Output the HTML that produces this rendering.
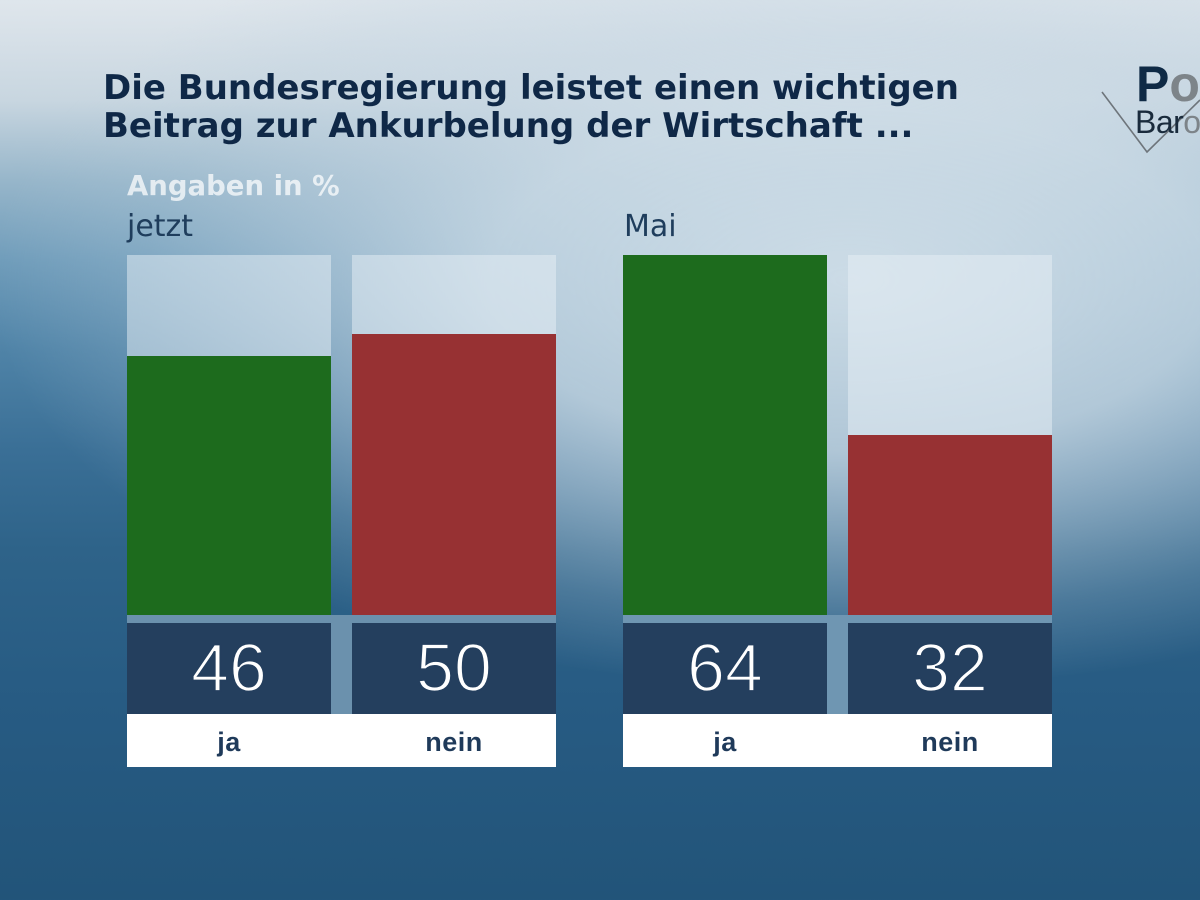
<!DOCTYPE html>
<html>
<head>
<meta charset="utf-8">
<style>
  html,body{margin:0;padding:0;}
  body{width:1200px;height:900px;overflow:hidden;position:relative;
    font-family:"Liberation Sans",sans-serif;
    background:
      radial-gradient(ellipse 860px 410px at 850px 280px, rgba(212,225,234,0.92) 0%, rgba(208,222,232,0.78) 42%, rgba(200,216,228,0.55) 60%, rgba(190,210,224,0.22) 82%, rgba(190,210,224,0) 100%),
      linear-gradient(180deg,#dfe6ec 0px,#c8d6e0 100px,#97b6ca 180px,#6f9cba 260px,#4f83a7 350px,#3a6f96 450px,#2e6389 550px,#275b83 700px,#225479 900px);
  }
  .abs{position:absolute;}
  .title{left:103px;top:69px;font-family:"DejaVu Sans",sans-serif;font-size:34px;line-height:38px;font-weight:bold;color:#0f2847;white-space:nowrap;}
  .angaben{left:127px;top:173px;font-family:"DejaVu Sans",sans-serif;font-size:27.5px;line-height:27.5px;font-weight:bold;color:rgba(255,255,255,0.72);white-space:nowrap;}
  .sub{top:212px;font-family:"DejaVu Sans",sans-serif;font-size:30px;line-height:30px;color:#1f3d5c;white-space:nowrap;}
  .slot{top:255px;height:360px;width:204px;background:rgba(232,240,245,0.5);}
  .bar{width:204px;}
  .green{background:#1d6b1d;}
  .red{background:#973133;}
  .band{top:615px;height:99px;background:#6b91ad;}
  .num{top:623px;height:91px;width:204px;background:#243f5e;color:#fff;text-align:center;
       font-size:68px;line-height:91px;-webkit-text-stroke:1.8px #243f5e;}
  .lab{top:714px;height:53px;background:#fff;}
  .lbl{top:714px;height:53px;width:204px;text-align:center;font-size:27px;line-height:53px;padding-top:2px;box-sizing:border-box;
       font-weight:bold;color:#1f3a5a;letter-spacing:0.5px;}
  .logoP{left:1136px;top:59px;font-size:50px;line-height:50px;font-weight:bold;color:#0f2a45;white-space:nowrap;}
  .logoB{left:1135px;top:106px;font-size:32px;line-height:32px;color:#1a2b3c;letter-spacing:-0.5px;white-space:nowrap;}
</style>
</head>
<body>
  <!-- logo -->
  <svg class="abs" style="left:0;top:0" width="1200" height="900">
    <polyline points="1102,92 1147,152 1200,100" fill="none" stroke="#6e757b" stroke-width="1.6"/>
  </svg>
  <div class="abs logoP">P<span style="color:#7d8489">o</span></div>
  <div class="abs logoB">Bar<span style="color:#7d8489">o</span></div>

  <div class="abs title">Die Bundesregierung leistet einen wichtigen<br>Beitrag zur Ankurbelung der Wirtschaft ...</div>
  <div class="abs angaben">Angaben in %</div>
  <div class="abs sub" style="left:127px;">jetzt</div>
  <div class="abs sub" style="left:624px;">Mai</div>

  <!-- group 1 -->
  <div class="abs slot" style="left:127px;"></div>
  <div class="abs slot" style="left:352px;"></div>
  <div class="abs band" style="left:127px;width:429px;"></div>
  <div class="abs bar green" style="left:127px;top:356px;height:259px;"></div>
  <div class="abs bar red" style="left:352px;top:334px;height:281px;"></div>
  <div class="abs num" style="left:127px;">46</div>
  <div class="abs num" style="left:352px;">50</div>
  <div class="abs lab" style="left:127px;width:429px;"></div>
  <div class="abs lbl" style="left:127px;">ja</div>
  <div class="abs lbl" style="left:352px;">nein</div>

  <!-- group 2 -->
  <div class="abs slot" style="left:623px;"></div>
  <div class="abs slot" style="left:848px;"></div>
  <div class="abs band" style="left:623px;width:429px;background:#6f96b2;"></div>
  <div class="abs bar green" style="left:623px;top:255px;height:360px;"></div>
  <div class="abs bar red" style="left:848px;top:435px;height:180px;"></div>
  <div class="abs num" style="left:623px;">64</div>
  <div class="abs num" style="left:848px;">32</div>
  <div class="abs lab" style="left:623px;width:429px;"></div>
  <div class="abs lbl" style="left:623px;">ja</div>
  <div class="abs lbl" style="left:848px;">nein</div>
</body>
</html>
